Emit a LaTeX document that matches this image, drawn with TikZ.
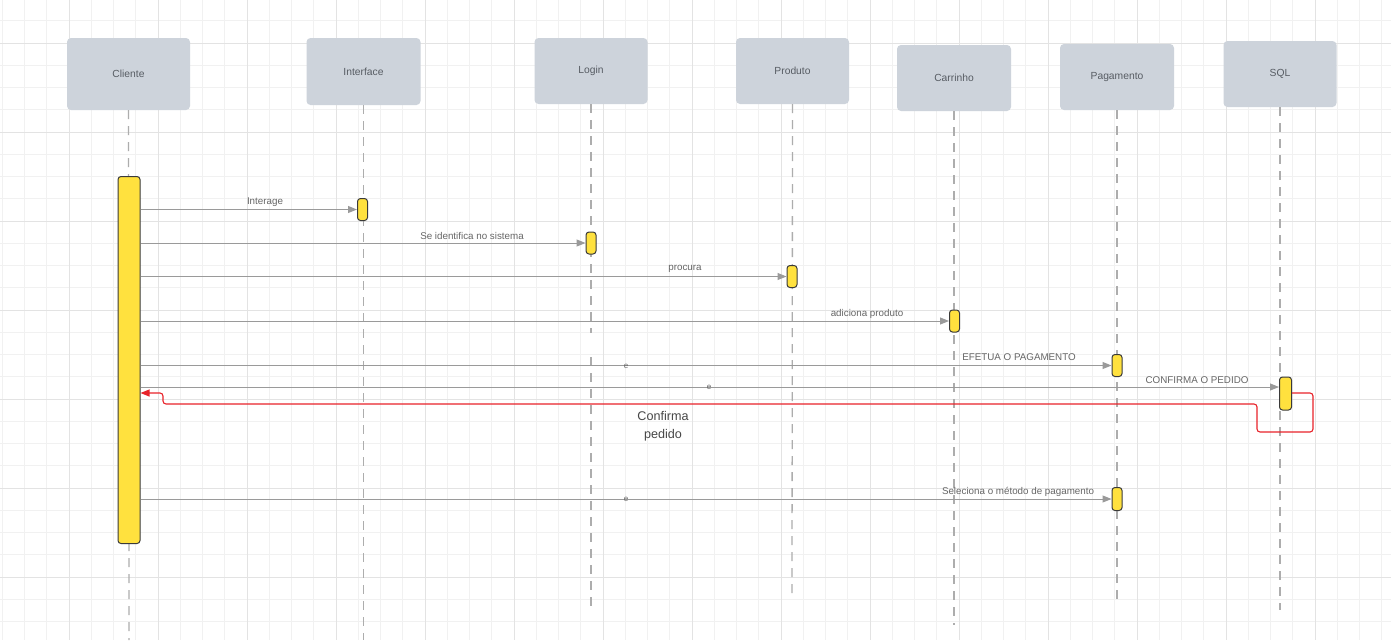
\documentclass[tikz,border=0pt]{standalone}
\usepackage{fontspec}
\setmainfont{Liberation Sans}
\usetikzlibrary{arrows.meta}
\definecolor{gridminor}{HTML}{F1F1F1}
\definecolor{gridmajor}{HTML}{E3E3E3}
\definecolor{headfill}{HTML}{CDD3DB}
\definecolor{headtext}{HTML}{575C63}
\definecolor{lifegray}{HTML}{ADADAD}
\definecolor{actfill}{HTML}{FFE13E}
\definecolor{actedge}{HTML}{3A3A3A}
\definecolor{msggray}{HTML}{9A9A9A}
\definecolor{lbltext}{HTML}{666666}
\definecolor{retred}{HTML}{E8232A}
\definecolor{notetext}{HTML}{474747}
\begin{document}
\begin{tikzpicture}[x=1pt,y=-1pt,
  head/.style={rectangle, rounded corners=4pt, fill=headfill, text=headtext,
    font=\fontsize{10.3}{12}\selectfont, inner sep=0pt},
  life/.style={draw=lifegray, line width=1.3pt, dash pattern=on 9pt off 7pt},
  act/.style={rectangle, rounded corners=3pt, draw=actedge, fill=actfill,
    line width=1pt, inner sep=0pt, minimum width=10pt},
  msg/.style={draw=msggray, line width=1pt, -{Triangle[length=9pt,width=7pt]}},
  lbl/.style={text=lbltext, font=\fontsize{9.8}{11}\selectfont, inner sep=0pt},
  tiny/.style={text=lbltext, font=\fontsize{8}{9}\selectfont, inner sep=0pt},
  ret/.style={draw=retred, line width=1.1pt, rounded corners=3pt,
    -{Triangle[length=9pt,width=7pt]}},
]
% canvas
\fill[white] (0,0) rectangle (1391,640);
\useasboundingbox (0,0) rectangle (1391,640);

% background grid
\foreach \k in {0,...,62}
  \draw[gridminor, line width=0.8pt] ({2.25+22.25*\k},0) -- ({2.25+22.25*\k},640);
\foreach \k in {1,...,29}
  \draw[gridminor, line width=0.8pt] (0,{-1.5+22.25*\k}) -- (1391,{-1.5+22.25*\k});
\foreach \k in {3,7,...,63}
  \draw[gridmajor, line width=0.9pt] ({2.25+22.25*\k},0) -- ({2.25+22.25*\k},640);
\foreach \k in {2,6,...,30}
  \draw[gridmajor, line width=0.9pt] (0,{-1.5+22.25*\k}) -- (1391,{-1.5+22.25*\k});

% participants
\node[head, minimum width=123pt, minimum height=72pt] (hC)  at (128.5,74)  {Cliente};
\node[head, minimum width=114pt, minimum height=67pt] (hI)  at (363.5,71.5) {Interface};
\node[head, minimum width=113pt, minimum height=66pt] (hL)  at (591,71)    {Login};
\node[head, minimum width=113pt, minimum height=66pt] (hP)  at (792.5,71)  {Produto};
\node[head, minimum width=114pt, minimum height=66pt] (hCa) at (954,78)    {Carrinho};
\node[head, minimum width=114pt, minimum height=66pt] (hPg) at (1117,77)   {Pagamento};
\node[head, minimum width=113pt, minimum height=66pt] (hS)  at (1280,74)   {SQL};

% lifeline ends
\coordinate (eC)  at (129,640);
\coordinate (eI)  at (363.5,640);
\coordinate (gL1) at (591,333);
\coordinate (gL2) at (591,357);
\coordinate (eL)  at (591,610);
\coordinate (eP)  at (792,598);
\coordinate (eCa) at (954,625);
\coordinate (ePg) at (1117,605);
\coordinate (eS)  at (1280,610);

\draw[life] (hC.south)  -- (eC);
\draw[life] (hI.south)  -- (eI);
\draw[life] (hL.south)  -- (gL1);
\draw[life] (gL2)       -- (eL);
\draw[life] (hP.south)  -- (eP);
\draw[life] (hCa.south) -- (eCa);
\draw[life] (hPg.south) -- (ePg);
\draw[life] (hS.south)  -- (eS);

% activation bars
\node[act, minimum width=22pt, minimum height=367pt] (actC) at (129,360) {};
\node[act, minimum height=22pt] (actI)   at (362.5,209.5) {};
\node[act, minimum height=22pt] (actL)   at (591,243)     {};
\node[act, minimum height=22pt] (actP)   at (792,276.5)   {};
\node[act, minimum height=22pt] (actCa)  at (954.5,321)   {};
\node[act, minimum height=22pt] (actPg)  at (1117,365.5)  {};
\node[act, minimum width=12pt, minimum height=33pt] (actS) at (1285.5,393.5) {};
\node[act, minimum height=23pt] (actPg2) at (1117,499)    {};

% messages
\coordinate (yConf) at (0,387);
\draw[msg] (actC.east |- actI.west)   -- (actI.west);
\draw[msg] (actC.east |- actL.west)   -- (actL.west);
\draw[msg] (actC.east |- actP.west)   -- (actP.west);
\draw[msg] (actC.east |- actCa.west)  -- (actCa.west);
\draw[msg] (actC.east |- actPg.west)  -- (actPg.west);
\draw[msg] (actC.east |- yConf)       -- (actS.west |- yConf);
\draw[msg] (actC.east |- actPg2.west) -- (actPg2.west);

\node[lbl] (l1) at (265,202)   {Interage};
\node[lbl] (l2) at (472,236)   {Se identifica no sistema};
\node[lbl] (l3) at (685,269)   {procura};
\node[lbl] (l4) at (867,313.5) {adiciona produto};
\node[lbl] (l5) at (1019,357.5){EFETUA O PAGAMENTO};
\node[lbl] (l6) at (1197,380)  {CONFIRMA O PEDIDO};
\node[lbl] (l7) at (1018,491.5){Seleciona o método de pagamento};

\node[tiny] (e1) at (626,366) {e};
\node[tiny] (e2) at (709,387.5) {e};
\node[tiny] (e3) at (626,499) {e};

% return from SQL
\coordinate (r1) at (1313,432);
\coordinate (r2) at (1257,404);
\coordinate (r3) at (163,393);
\draw[ret] (actS.east |- r3) -| (r1) -| (r2) -| (r3) -- (actC.east |- r3);

\node[text=notetext, font=\fontsize{12.6}{18}\selectfont, align=center, inner sep=0pt]
  (note) at (663,426.5) {Confirma\\pedido};
\end{tikzpicture}
\end{document}
